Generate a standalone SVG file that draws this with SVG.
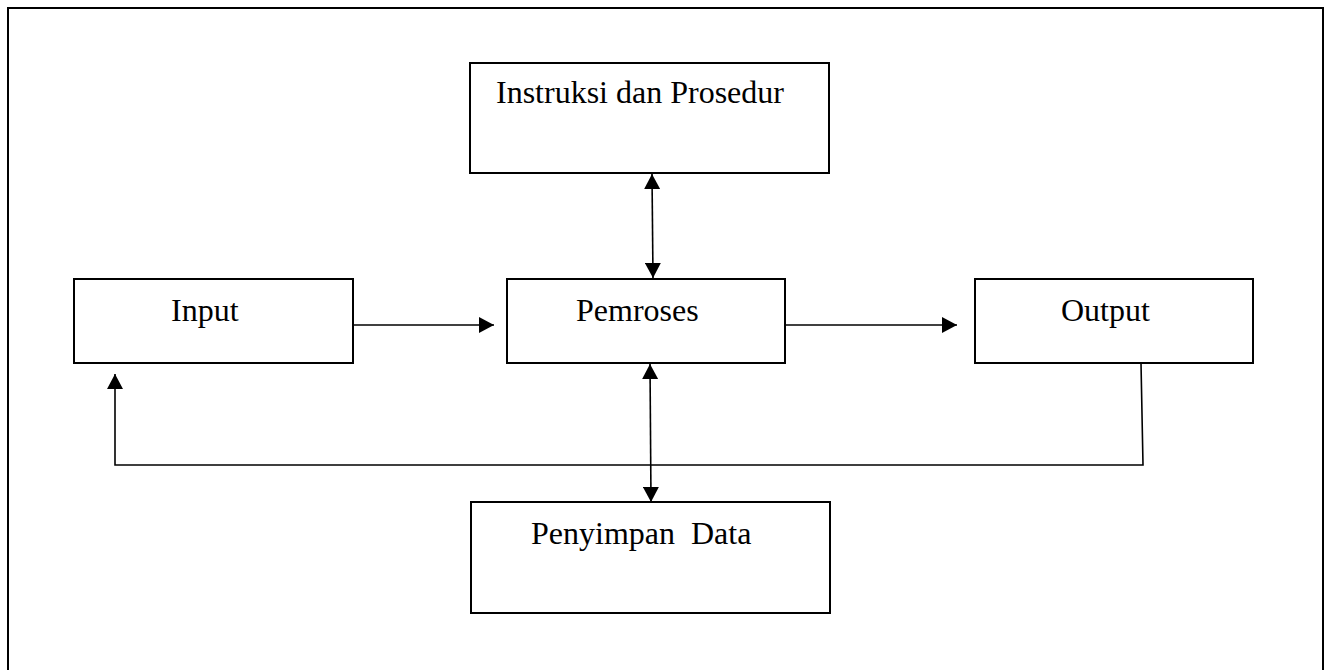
<svg xmlns="http://www.w3.org/2000/svg" width="1326" height="670" viewBox="0 0 1326 670">
  <defs>
    <style>
      .box { fill: #fff; stroke: #000; stroke-width: 2; }
      .lbl { font-family: "Liberation Serif", "Times New Roman", serif; font-size: 32px; fill: #000; }
      .con { fill: none; stroke: #000; stroke-width: 1.6; }
      .arr { marker-end: url(#ah); }
      .darr { marker-start: url(#ah); marker-end: url(#ah); }
    </style>
    <marker id="ah" markerUnits="userSpaceOnUse" markerWidth="16" markerHeight="16" viewBox="0 0 16 16" refX="15" refY="8" orient="auto-start-reverse">
      <path d="M0,0 L15,8 L0,16 Z" fill="#000"/>
    </marker>
  </defs>
  <rect x="0" y="0" width="1326" height="670" fill="#fff"/>
  <path d="M8,672 L8,8 L1323,8 L1323,672" fill="none" stroke="#000" stroke-width="2"/>

  <g id="instruksi">
    <rect class="box" x="470" y="63" width="359" height="110"/>
    <text class="lbl" x="496" y="103">Instruksi dan Prosedur</text>
  </g>
  <g id="input">
    <rect class="box" x="74" y="279" width="279" height="84"/>
    <text class="lbl" x="171" y="321">Input</text>
  </g>
  <g id="pemroses">
    <rect class="box" x="507" y="279" width="278" height="84"/>
    <text class="lbl" x="576" y="321">Pemroses</text>
  </g>
  <g id="output">
    <rect class="box" x="975" y="279" width="278" height="84"/>
    <text class="lbl" x="1061" y="321">Output</text>
  </g>
  <g id="penyimpan">
    <rect class="box" x="471" y="502" width="359" height="111"/>
    <text class="lbl" x="531" y="544" xml:space="preserve">Penyimpan  Data</text>
  </g>

  <g id="connectors">
    <line class="con darr" x1="652" y1="174" x2="653" y2="278"/>
    <line class="con arr" x1="353" y1="325" x2="494" y2="325"/>
    <line class="con arr" x1="785" y1="325" x2="957" y2="325"/>
    <line class="con darr" x1="650" y1="364" x2="651" y2="502"/>
    <polyline class="con arr" points="1141,363 1143,465 115,465 115,374"/>
  </g>
</svg>
